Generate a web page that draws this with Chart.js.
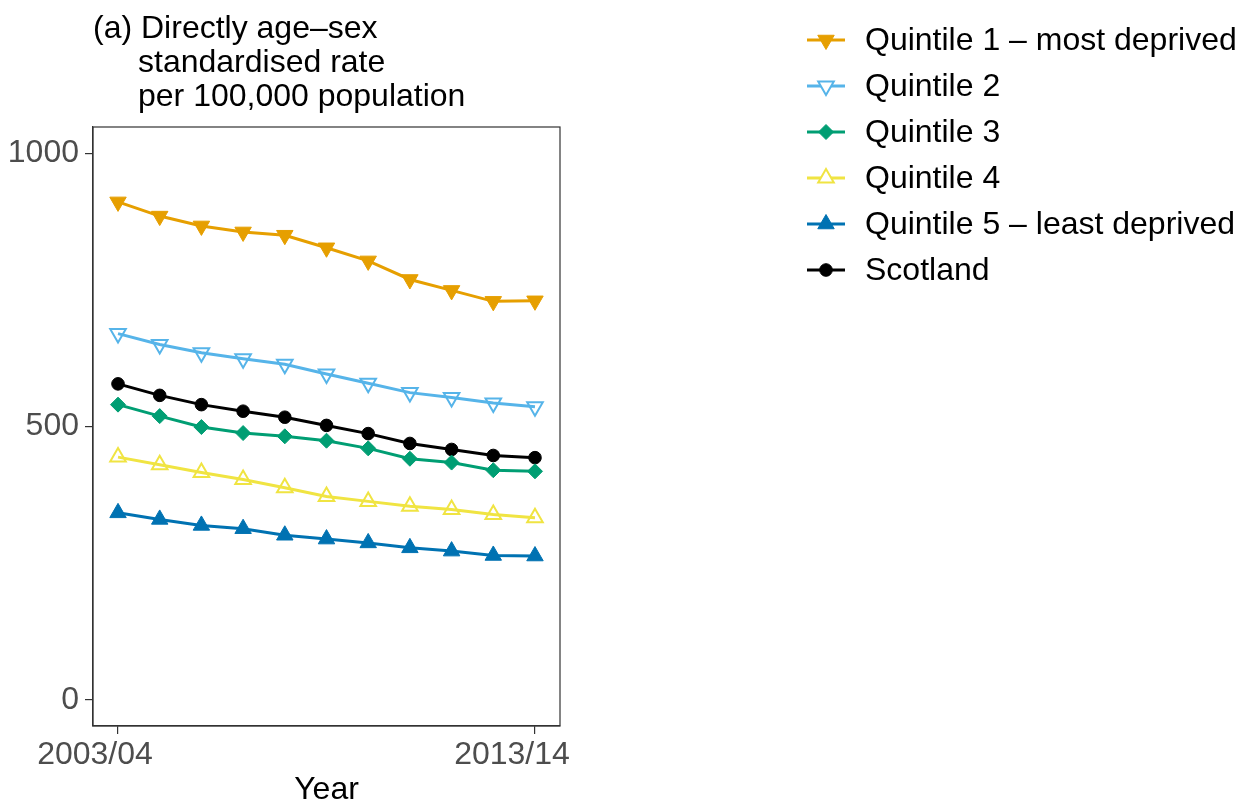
<!DOCTYPE html>
<html>
<head>
<meta charset="utf-8">
<script src="https://cdn.jsdelivr.net/npm/chart.js@4"></script>
<style>
  html, body { margin: 0; padding: 0; background: #fff; }
  #wrap { width: 1250px; height: 809px; position: relative; }
</style>
</head>
<body>
<div id="wrap"><canvas id="chart-1" width="1250" height="809"></canvas></div>
<script>
// Years on the x axis (only the first and last are labelled)
const years = ["2003/04", "2004/05", "2005/06", "2006/07", "2007/08", "2008/09",
               "2009/10", "2010/11", "2011/12", "2012/13", "2013/14"];
const tickYears = [0, 10];
const yTicks = [0, 500, 1000];

// Rate per 100,000 by deprivation quintile
const quintile1 = [911, 885, 867, 856, 850, 827, 803, 769, 749, 729, 730];
const quintile2 = [670, 650, 635, 624, 614, 596, 579, 562, 553, 543, 536];
const quintile3 = [540, 519, 499, 488, 482, 474, 460, 441, 434, 420, 418];
const quintile4 = [444, 430, 416, 403, 388, 372, 363, 354, 348, 339, 333];
const quintile5 = [342, 330, 319, 313, 301, 294, 287, 278, 272, 264, 263];
const scotland  = [578, 557, 540, 528, 517, 502, 487, 469, 458, 447, 443];

const FONT = "'Liberation Sans', Arial, Helvetica, sans-serif";
const FONT_SIZE = 32;

const series = [
    { label: "Quintile 1 \u2013 most deprived", data: quintile1, color: "#E69F00", style: "triangle", rot: 180, fill: true, r: 9.5 },
    { label: "Quintile 2", data: quintile2, color: "#56B4E9", style: "triangle", rot: 180, fill: false, r: 9 },
    { label: "Quintile 3", data: quintile3, color: "#009E73", style: "rectRot", rot: 0, fill: true, r: 7.5 },
    { label: "Quintile 4", data: quintile4, color: "#F0E442", style: "triangle", rot: 0, fill: false, r: 9 },
    { label: "Quintile 5 \u2013 least deprived", data: quintile5, color: "#0072B2", style: "triangle", rot: 0, fill: true, r: 9.5 },
    { label: "Scotland", data: scotland, color: "#000000", style: "circle", rot: 0, fill: true, r: 6.3 },
];

const datasets = series.map(s => ({
    label: s.label,
    data: s.data.map((v, i) => ({ x: i, y: v })),
    borderColor: s.color,
    borderWidth: 3,
    pointStyle: s.style,
    pointRotation: s.rot,
    pointRadius: s.r,
    pointBorderWidth: s.fill ? 1 : 2,
    pointBorderColor: s.color,
    pointBackgroundColor: s.fill ? s.color : "rgba(0,0,0,0)",
    tension: 0,
}));

// Panel frame, title block and legend
const decorations = {
    id: "decorations",
    afterDraw(chart) {
        const ctx = chart.ctx;
        const a = chart.chartArea;
        ctx.save();
        ctx.strokeStyle = "#333333";
        ctx.lineWidth = 1.2;
        ctx.strokeRect(a.left, a.top, a.right - a.left, a.bottom - a.top);

        ctx.fillStyle = "#000";
        ctx.font = FONT_SIZE + "px " + FONT;
        ctx.textBaseline = "alphabetic";
        ctx.textAlign = "left";
        ctx.fillText("(a) Directly age\u2013sex", 93, 38);
        ctx.fillText("standardised rate", 138, 72);
        ctx.fillText("per 100,000 population", 138, 106);

        series.forEach((s, i) => {
            const y = 40 + i * 46;
            ctx.strokeStyle = s.color;
            ctx.lineWidth = 3;
            ctx.beginPath();
            ctx.moveTo(807, y);
            ctx.lineTo(845, y);
            ctx.stroke();
            ctx.fillStyle = s.fill ? s.color : "#fff";
            ctx.lineWidth = s.fill ? 1 : 2;
            Chart.helpers.drawPoint(ctx, {
                pointStyle: s.style,
                rotation: s.rot,
                radius: s.r,
                borderWidth: s.fill ? 1 : 2,
            }, 826, y);
            ctx.fillStyle = "#000";
            ctx.textBaseline = "middle";
            ctx.fillText(s.label, 865, y + 1);
        });
        ctx.restore();
    },
};

const ctx1 = document.getElementById("chart-1").getContext("2d");
const lineChart = new Chart(ctx1, {
    type: "line",
    data: { datasets: datasets },
    options: {
        responsive: false,
        animation: false,
        layout: { padding: { left: 0, top: 127, right: 690, bottom: 0 } },
        plugins: { legend: { display: false }, tooltip: { enabled: false }, title: { display: false } },
        scales: {
            x: {
                type: "linear",
                min: -0.6,
                max: 10.6,
                afterBuildTicks: scale => { scale.ticks = tickYears.map(v => ({ value: v })); },
                afterFit: scale => { scale.height = 83; },
                ticks: {
                    callback: v => years[v],
                    color: "#4D4D4D",
                    font: { family: FONT, size: FONT_SIZE },
                    padding: 2,
                    labelOffset: -23,
                    maxRotation: 0,
                    autoSkip: false,
                },
                grid: { drawOnChartArea: false, drawTicks: true, tickLength: 8, color: "#333333", lineWidth: 1.2 },
                border: { display: true, color: "#333333", width: 1.2 },
                title: { display: true, text: "Year", color: "#000", font: { family: FONT, size: FONT_SIZE }, padding: { top: 0, bottom: 0 } },
            },
            y: {
                min: -48,
                max: 1048,
                afterBuildTicks: scale => { scale.ticks = yTicks.map(v => ({ value: v })); },
                afterFit: scale => { scale.width = 93; },
                ticks: {
                    callback: v => String(v),
                    color: "#4D4D4D",
                    font: { family: FONT, size: FONT_SIZE },
                    padding: 6,
                },
                grid: { drawOnChartArea: false, drawTicks: true, tickLength: 8, color: "#333333", lineWidth: 1.2 },
                border: { display: true, color: "#333333", width: 1.2 },
            },
        },
    },
    plugins: [decorations],
});
</script>
</body>
</html>
